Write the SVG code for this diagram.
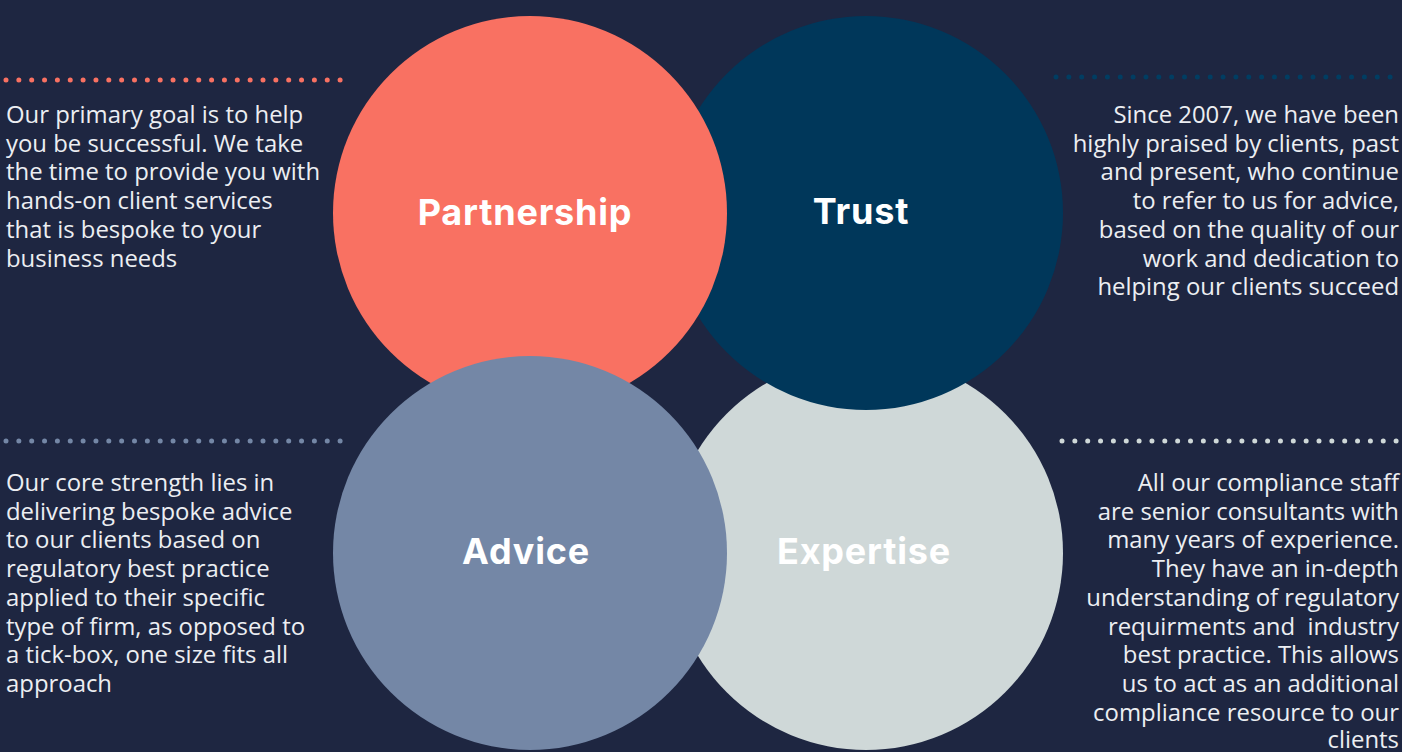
<svg xmlns="http://www.w3.org/2000/svg" width="1402" height="752" viewBox="0 0 1402 752">
  <style>
    .body { font-family: "Open Sans", "Noto Sans", "Liberation Sans", sans-serif; font-size: 23.9px; fill: #eceef2; }
    .left { text-anchor: start; }
    .right { text-anchor: end; }
    .head { font-family: Inter, "Noto Sans", "Liberation Sans", sans-serif; font-weight: 700; font-size: 36px; letter-spacing: 0.8px; fill: #ffffff; text-anchor: middle; }
    .dots { stroke-width: 5; stroke-linecap: round; stroke-dasharray: 0 12.85; fill: none; }
  </style>
  <rect width="1402" height="752" fill="#1e2641"/>

  <g id="connectors">
    <line class="dots" x1="6" y1="80" x2="341" y2="80" stroke="#f97162"/>
    <line class="dots" x1="1056" y1="77" x2="1391" y2="77" stroke="#013d62"/>
    <line class="dots" x1="6" y1="441" x2="341" y2="441" stroke="#7487a6"/>
    <line class="dots" x1="1062" y1="441" x2="1397" y2="441" stroke="#cfd8d8"/>
  </g>

  <g id="expertise">
    <circle cx="866" cy="553" r="197" fill="#cfd8d8"/>
    <text class="head" x="864" y="564">Expertise</text>
  </g>
  <g id="trust">
    <circle cx="866" cy="213" r="197" fill="#00375a"/>
    <text class="head" x="861" y="224">Trust</text>
  </g>
  <g id="partnership">
    <circle cx="530" cy="213" r="197" fill="#f97162"/>
    <text class="head" x="525" y="225">Partnership</text>
  </g>
  <g id="advice">
    <circle cx="530" cy="553" r="197" fill="#7487a6"/>
    <text class="head" x="526" y="564">Advice</text>
  </g>

  <g id="text-partnership" class="body left">
    <text x="6" y="123">Our primary goal is to help</text>
    <text x="6" y="151.7">you be successful. We take</text>
    <text x="6" y="180.4">the time to provide you with</text>
    <text x="6" y="209.1">hands-on client services</text>
    <text x="6" y="237.8">that is bespoke to your</text>
    <text x="6" y="266.5">business needs</text>
  </g>

  <g id="text-trust" class="body right">
    <text x="1399" y="123">Since 2007, we have been</text>
    <text x="1399" y="151.7">highly praised by clients, past</text>
    <text x="1399" y="180.4">and present, who continue</text>
    <text x="1399" y="209.1">to refer to us for advice,</text>
    <text x="1399" y="237.8">based on the quality of our</text>
    <text x="1399" y="266.5">work and dedication to</text>
    <text x="1399" y="295.2">helping our clients succeed</text>
  </g>

  <g id="text-advice" class="body left">
    <text x="6" y="491">Our core strength lies in</text>
    <text x="6" y="519.7">delivering bespoke advice</text>
    <text x="6" y="548.4">to our clients based on</text>
    <text x="6" y="577.1">regulatory best practice</text>
    <text x="6" y="605.8">applied to their specific</text>
    <text x="6" y="634.5">type of firm, as opposed to</text>
    <text x="6" y="663.2">a tick-box, one size fits all</text>
    <text x="6" y="691.9">approach</text>
  </g>

  <g id="text-expertise" class="body right">
    <text x="1399" y="491">All our compliance staff</text>
    <text x="1399" y="519.7">are senior consultants with</text>
    <text x="1399" y="548.4">many years of experience.</text>
    <text x="1399" y="577.1">They have an in-depth</text>
    <text x="1399" y="605.8">understanding of regulatory</text>
    <text x="1399" y="634.5" xml:space="preserve">requirments and  industry</text>
    <text x="1399" y="663.2">best practice. This allows</text>
    <text x="1399" y="691.9">us to act as an additional</text>
    <text x="1399" y="720.6">compliance resource to our</text>
    <text x="1399" y="748">clients</text>
  </g>
</svg>
